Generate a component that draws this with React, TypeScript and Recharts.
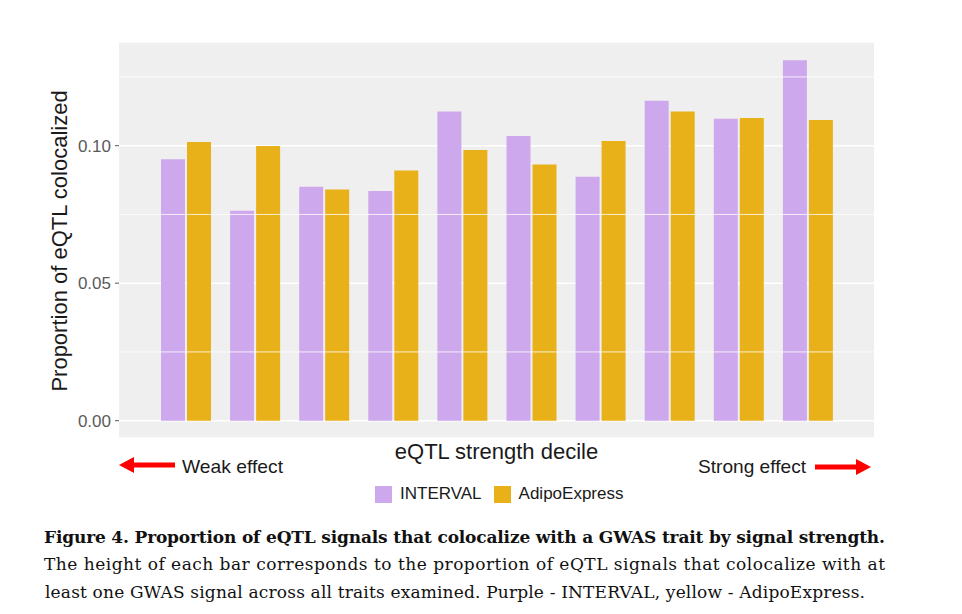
import React from 'react';
import { BarChart, Bar, XAxis, YAxis, CartesianGrid, ReferenceLine, Legend, Label } from 'recharts';

const deciles = ['1', '2', '3', '4', '5', '6', '7', '8', '9', '10'];
const intervalValues = [0.0951, 0.0763, 0.0851, 0.0835, 0.1124, 0.1035, 0.0887, 0.1163, 0.1098, 0.1311];
const adipoValues = [0.1013, 0.0999, 0.0841, 0.0910, 0.0984, 0.0932, 0.1017, 0.1124, 0.1101, 0.1093];
const majorTicks = [0, 0.05, 0.1];
const minorTicks = [0.025, 0.075, 0.125];
const yDomain = [-0.0063, 0.1377];

const seriesNames = ['INTERVAL', 'AdipoExpress'];
const seriesColors = ['#cda8ec', '#e8b11a'];

const captionLines = [
  'Figure 4. Proportion of eQTL signals that colocalize with a GWAS trait by signal strength.',
  'The height of each bar corresponds to the proportion of eQTL signals that colocalize with at',
  'least one GWAS signal across all traits examined. Purple - INTERVAL, yellow - AdipoExpress.',
];

const data = deciles.map((d, i) => ({
  decile: d,
  interval: intervalValues[i],
  adipo: adipoValues[i],
}));

const SANS = '"Liberation Sans", Arial, Helvetica, sans-serif';
const SERIF = '"DejaVu Serif", "Liberation Serif", serif';

const LegendContent = (props: any) => {
  const payload = [...(props.payload || [])].sort(
    (a: any, b: any) => seriesNames.indexOf(a.value) - seriesNames.indexOf(b.value)
  );
  return (
    <div style={{ display: 'flex', alignItems: 'center', fontFamily: SANS, fontSize: 17, color: '#1a1a1a' }}>
      {payload.map((p: any, i: number) => (
        <div key={i} style={{ display: 'flex', alignItems: 'center', marginRight: i === 0 ? 12 : 0 }}>
          <div style={{ width: 17, height: 17, background: p.color, marginRight: 8 }} />
          <span>{p.value}</span>
        </div>
      ))}
    </div>
  );
};

export default function App() {
  return (
    <div style={{ position: 'absolute', left: 0, top: 0, width: 962, height: 614, background: '#fff', overflow: 'hidden' }}>
      <BarChart
        width={962}
        height={500}
        data={data}
        margin={{ top: 42, right: 88, left: 60, bottom: 22 }}
        barSize={24}
        barGap={2}
      >
        <CartesianGrid vertical={false} stroke="#ffffff" strokeWidth={1.5} fill="#efefef" fillOpacity={1} />
        {minorTicks.map((v) => (
          <ReferenceLine key={v} y={v} stroke="#ffffff" strokeWidth={0.8} ifOverflow="hidden" />
        ))}
        <XAxis
          dataKey="decile"
          tick={false}
          tickLine={false}
          axisLine={false}
          height={40}
          padding={{ left: 32, right: 32 }}
        >
          <Label
            content={(p: any) => {
              const vb = p.viewBox || {};
              return (
                <text
                  x={vb.x + vb.width / 2}
                  y={vb.y + 20.5}
                  textAnchor="middle"
                  fontFamily={SANS}
                  fontSize={22}
                  fill="#1a1a1a"
                >
                  eQTL strength decile
                </text>
              );
            }}
          />
        </XAxis>
        <YAxis
          type="number"
          domain={yDomain}
          ticks={majorTicks}
          allowDataOverflow
          width={59}
          axisLine={false}
          tickLine={{ stroke: '#555' }}
          tickSize={4}
          tickMargin={4}
          tick={{ fill: '#5a5a5a', fontSize: 17, fontFamily: SANS }}
          tickFormatter={(v: number) => v.toFixed(2)}
        >
          <Label
            content={(p: any) => {
              const vb = p.viewBox || {};
              const cx = vb.x + 7;
              const cy = vb.y + vb.height / 2 + 1;
              return (
                <text
                  x={cx}
                  y={cy}
                  transform={`rotate(-90 ${cx} ${cy})`}
                  textAnchor="middle"
                  fontFamily={SANS}
                  fontSize={22}
                  fill="#1a1a1a"
                >
                  Proportion of eQTL colocalized
                </text>
              );
            }}
          />
        </YAxis>
        <Legend
          verticalAlign="middle"
          align="center"
          layout="horizontal"
          content={LegendContent}
          wrapperStyle={{ position: 'absolute', top: 484, left: 375, width: 'auto', height: 'auto' }}
        />
        <Bar dataKey="interval" name={seriesNames[0]} fill={seriesColors[0]} isAnimationActive={false} />
        <Bar dataKey="adipo" name={seriesNames[1]} fill={seriesColors[1]} isAnimationActive={false} />
      </BarChart>
      <svg
        width={962}
        height={614}
        style={{ position: 'absolute', left: 0, top: 0, pointerEvents: 'none' }}
      >
        <rect x={131} y={462.5} width={44} height={5} fill="#ff0000" />
        <polygon points="119,465 134,457 134,473" fill="#ff0000" />
        <text x={182} y={473} fontFamily={SANS} fontSize={19} fill="#1a1a1a" textLength={101} lengthAdjust="spacingAndGlyphs">
          Weak effect
        </text>
        <text x={698} y={473} fontFamily={SANS} fontSize={19} fill="#1a1a1a" textLength={108} lengthAdjust="spacingAndGlyphs">
          Strong effect
        </text>
        <rect x={815} y={464.5} width={43} height={5} fill="#ff0000" />
        <polygon points="871,467 856,459 856,475" fill="#ff0000" />
        <text x={44} y={543} fontFamily={SERIF} fontWeight="bold" fontSize={17} fill="#111" textLength={841} lengthAdjust="spacing">
          {captionLines[0]}
        </text>
        <text x={44} y={570} fontFamily={SERIF} fontSize={17} fill="#111" textLength={841} lengthAdjust="spacing">
          {captionLines[1]}
        </text>
        <text x={45} y={598} fontFamily={SERIF} fontSize={17} fill="#111" textLength={820} lengthAdjust="spacing">
          {captionLines[2]}
        </text>
      </svg>
    </div>
  );
}
